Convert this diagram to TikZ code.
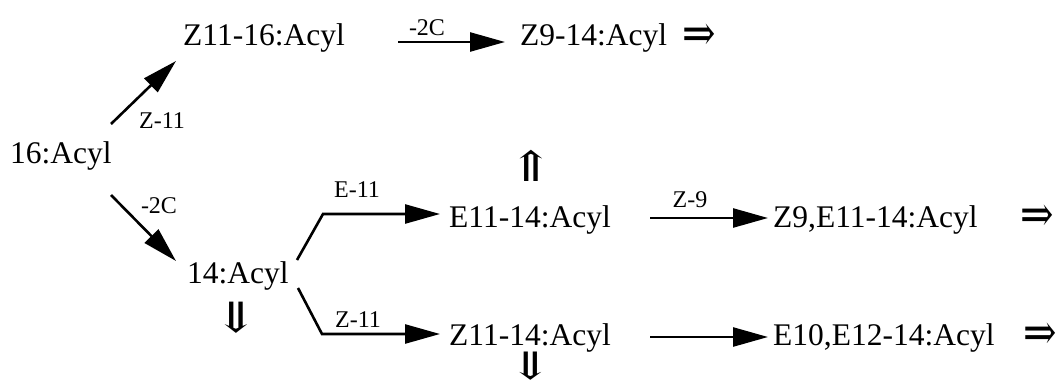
\documentclass[tikz,border=0pt]{standalone}
\usepackage{fontspec}
\usepackage{graphicx}
\setmainfont{Liberation Serif}
\newfontfamily\symf{DejaVu Serif}
\usetikzlibrary{arrows.meta,calc}
\newcommand{\hdbl}{\scalebox{1}[1.25]{\symf\fontsize{40}{44}\selectfont ⇒}}
\newcommand{\updbl}{\scalebox{1.3}[1]{\symf\fontsize{42}{46}\selectfont ⇑}}
\newcommand{\dndbl}{\scalebox{1.3}[1]{\symf\fontsize{42}{46}\selectfont ⇓}}
\newcommand{\dndblsm}{\scalebox{1.4}[1]{\symf\fontsize{38}{42}\selectfont ⇓}}
\begin{document}
\begin{tikzpicture}[x=1pt,y=-1pt,
  lbl/.style={font=\fontsize{31.5}{36}\selectfont, inner sep=0pt, anchor=base west},
  sml/.style={font=\fontsize{24}{28}\selectfont, inner sep=0pt},
  dbl/.style={inner sep=0pt},
  arr/.style={line width=2.6pt, -{Triangle[length=35pt,width=19pt]}},
  ]
\useasboundingbox (0,0) rectangle (1062,388);
% compounds
\node[lbl] (n16) at (10,163) {16:Acyl};
\node[lbl] (z1116) at (183,45) {Z11-16:Acyl};
\node[lbl] (z914) at (520,45) {Z9-14:Acyl};
\node[lbl] (n14) at (187,283) {14:Acyl};
\node[lbl] (e1114) at (449,227) {E11-14:Acyl};
\node[lbl] (z9e11) at (773,227) {Z9,E11-14:Acyl};
\node[lbl] (z1114) at (449,345) {Z11-14:Acyl};
\node[lbl] (e10e12) at (773,345) {E10,E12-14:Acyl};
% double arrows
\node[dbl] (d1) at (699,37) {\hdbl};
\node[dbl] (d2) at (1037,218) {\hdbl};
\node[dbl] (d3) at (1040,336) {\hdbl};
\node[dbl] (u1) at (531,166) {\updbl};
\node[dbl] (w1) at (236,318) {\dndbl};
\node[dbl] (w2) at (531,366) {\dndblsm};
% connector end points
\coordinate (a1s) at (111,124);
\coordinate (a1e) at (176,61);
\coordinate (a2s) at (111,195);
\coordinate (a2e) at (176,261);
\coordinate (a3s) at (398,42);
\coordinate (a3e) at (505,42);
\coordinate (b1s) at (297,260);
\coordinate (b1m) at (323,214);
\coordinate (b1e) at (440,214);
\coordinate (b2s) at (298,288);
\coordinate (b2m) at (322,334);
\coordinate (b2e) at (440,334);
\coordinate (c1s) at (650,218);
\coordinate (c1e) at (768,218);
\coordinate (c2s) at (650,337);
\coordinate (c2e) at (768,337);
% connectors
\draw[arr] (a1s) -- (a1e);
\draw[arr] (a2s) -- (a2e);
\draw[arr] (a3s) -- (a3e);
\draw[arr] (b1s) -- (b1m) -- (b1e);
\draw[arr] (b2s) -- (b2m) -- (b2e);
\draw[arr] (c1s) -- (c1e);
\draw[arr] (c2s) -- (c2e);
% labels
\node[sml] (l1) at (162,121) {Z-11};
\node[sml] (l2) at (159,206) {-2C};
\node[sml] (l3) at (427,28) {-2C};
\node[sml] (l4) at (357,190) {E-11};
\node[sml] (l5) at (358,320) {Z-11};
\node[sml] (l6) at (690,200) {Z-9};
\end{tikzpicture}
\end{document}
